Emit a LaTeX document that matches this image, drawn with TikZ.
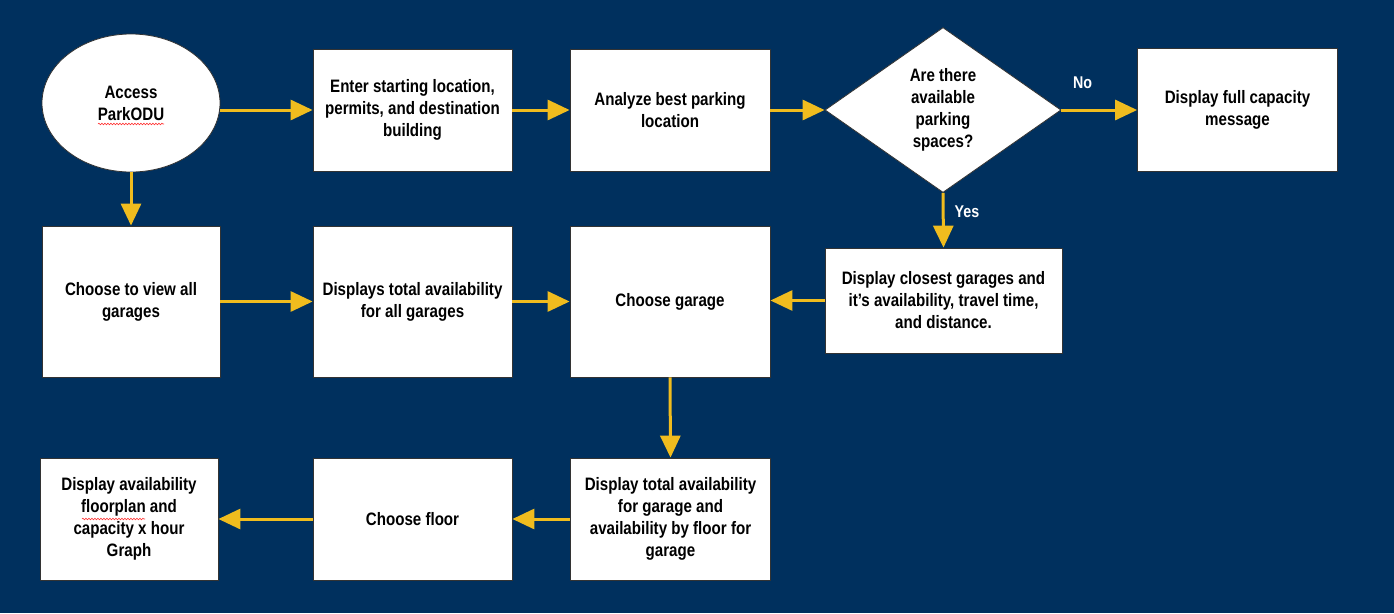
\documentclass[tikz,border=0pt]{standalone}
\usepackage{fontspec}
\setmainfont{Liberation Sans}[FakeStretch=0.84]
\usetikzlibrary{shapes.geometric,arrows.meta,decorations.pathmorphing}
\definecolor{navy}{RGB}{0,48,94}
\definecolor{gold}{RGB}{240,188,30}
\tikzset{
  box/.style={draw=black!80, line width=0.8pt, fill=white, rectangle, inner sep=2pt,
    align=center, font=\bfseries\fontsize{18}{22}\selectfont},
  flow/.style={draw=gold, line width=3pt, -{Triangle[length=22pt,width=20pt]}},
  lbl/.style={text=white, font=\bfseries\fontsize{17}{20}\selectfont, inner sep=0pt},
  squig/.style={draw=red!80, line width=0.6pt, decorate, decoration={snake, amplitude=0.8pt, segment length=3pt}}
}
\begin{document}
\begin{tikzpicture}[x=1pt,y=-1pt]
\useasboundingbox (0,0) rectangle (1394,613);
\fill[navy] (0,0) rectangle (1394,613);

\node[box, ellipse, minimum width=178pt, minimum height=138pt, inner sep=0pt] (start) at (131,103) {Access\\ParkODU};
\node[box, minimum width=199pt, minimum height=122pt] (enter) at (412.5,110) {Enter starting location,\\permits, and destination\\building};
\node[box, minimum width=200pt, minimum height=122pt] (analyze) at (670,110) {Analyze best parking\\location};
\node[box, diamond, aspect=1.43, minimum width=236pt, minimum height=165pt, inner sep=0pt] (decision) at (943,110) {Are there\\available\\parking\\spaces?};
\node[box, minimum width=200pt, minimum height=123pt] (full) at (1237.5,110) {Display full capacity\\message};

\node[box, minimum width=178pt, minimum height=151pt] (viewall) at (131,301.5) {Choose to view all\\garages};
\node[box, minimum width=199pt, minimum height=151pt] (alltotal) at (412.5,301.5) {Displays total availability\\for all garages};
\node[box, minimum width=200pt, minimum height=151pt] (garage) at (670,301.5) {Choose garage};
\node[box, minimum width=237pt, minimum height=105pt] (closest) at (943.5,300.5) {Display closest garages and\\it's availability, travel time,\\and distance.};

\node[box, minimum width=178pt, minimum height=122pt] (floorplan) at (129,519) {Display availability\\floorplan and\\capacity x hour\\Graph};
\node[box, minimum width=199pt, minimum height=122pt] (floor) at (412.5,519) {Choose floor};
\node[box, minimum width=200pt, minimum height=122pt] (gtotal) at (670.5,519) {Display total availability\\for garage and\\availability by floor for\\garage};

\draw[squig] (98,124) -- (164,124);
\draw[squig] (82,519) -- (145,519);

\draw[flow] (start.east |- enter.west) -- (enter.west);
\draw[flow] (enter.east) -- (analyze.west);
\draw[flow] (analyze.east) -- (decision.west);
\draw[flow] (decision.east) -- node[lbl, pos=0.28, above=20pt] {No} (full.west);
\draw[flow] (decision.south) -- node[lbl, pos=0.35, right=10pt] {Yes} (closest.north);
\draw[flow] (closest.west) -- (garage.east |- closest.west);
\draw[flow] (start.south) -- (viewall.north);
\draw[flow] (viewall.east) -- (alltotal.west);
\draw[flow] (alltotal.east) -- (garage.west);
\draw[flow] (garage.south) -- (gtotal.north);
\draw[flow] (gtotal.west) -- (floor.east);
\draw[flow] (floor.west) -- (floorplan.east);
\end{tikzpicture}
\end{document}
